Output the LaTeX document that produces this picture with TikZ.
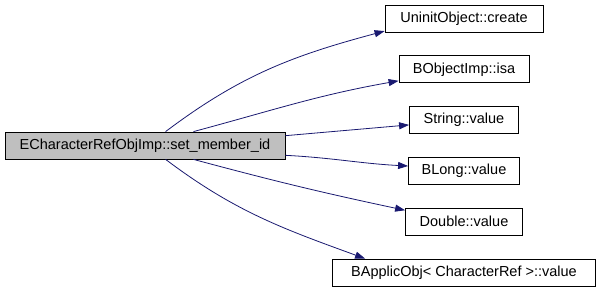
\documentclass[tikz,border=0pt]{standalone}
\usepackage{fontspec}
\setmainfont{Liberation Sans}
\usetikzlibrary{arrows.meta,positioning}
\definecolor{edgeblue}{HTML}{191970}
\tikzset{
  fn/.style={rectangle,draw=black,line width=0.8pt,minimum height=27pt,inner sep=0pt,align=center,font=\fontsize{14.5}{16}\selectfont},
  cur/.style={fn,fill=black!25},
  arr/.style={-{Triangle[length=10pt,width=7pt,fill=edgeblue]},draw=edgeblue,line width=0.8pt},
}
\begin{document}
\begin{tikzpicture}[x=1pt,y=1pt,node distance=23pt]
  \useasboundingbox (0,0) rectangle (600,-291);
  \node[cur,minimum width=280pt] (main) at (145,-145.5) {ECharacterRefObjImp::set\_member\_id};
  \node[fn,minimum width=158pt] (create) at (464,-18.5) {UninitObject::create};
  \node[fn,minimum width=130pt,below=of create] (isa) {BObjectImp::isa};
  \node[fn,minimum width=109pt,below=of isa] (str) {String::value};
  \node[fn,minimum width=111pt,below=of str] (blong) {BLong::value};
  \node[fn,minimum width=117pt,below=of blong] (dbl) {Double::value};
  \node[fn,minimum width=263pt,below=of dbl] (bapp) {BApplicObj< CharacterRef >::value};
  \draw[arr] (main.34) to[out=37,in=195] (create.189);
  \draw[arr] (main.16.7) to[out=15,in=190] (isa.190);
  \draw[arr] (main.4.3) to[out=5,in=185] (str.185);
  \draw[arr] (main.-4.7) to[out=-3,in=177] (blong.175);
  \draw[arr] (main.-16.7) to[out=-15,in=168] (dbl.169);
  \draw[arr] (main.-34) to[out=-37,in=160] (bapp.172);
\end{tikzpicture}
\end{document}
